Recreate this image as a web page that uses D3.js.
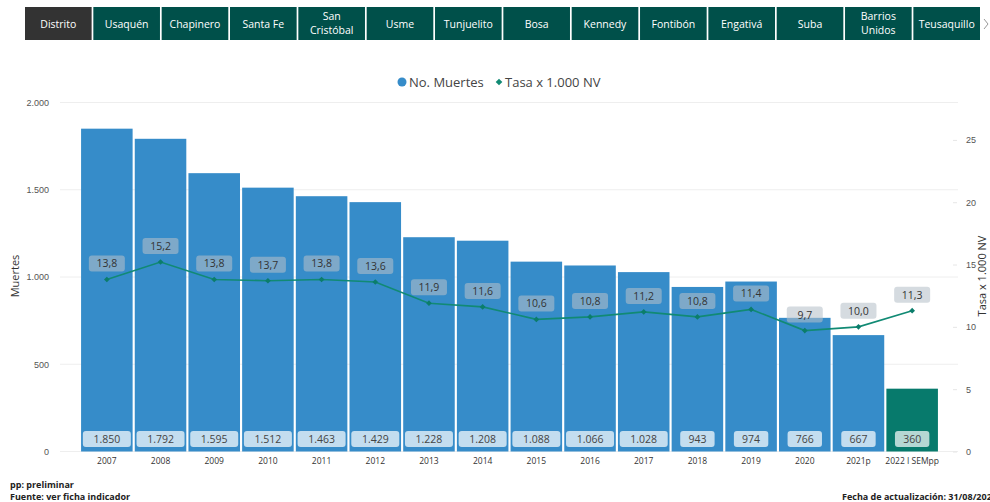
<!DOCTYPE html>
<html>
<head>
<meta charset="utf-8">
<script src="https://cdn.jsdelivr.net/npm/d3@7"></script>
<style>
  body { margin: 0; background: #fff; font-family: "Segoe UI", "Open Sans", "Noto Sans", sans-serif; }
  svg { display: block; }
</style>
</head>
<body>
<svg width="990" height="502"></svg>
<script>
const tabs = ["Distrito", "Usaquén", "Chapinero", "Santa Fe", "San|Cristóbal", "Usme", "Tunjuelito",
  "Bosa", "Kennedy", "Fontibón", "Engativá", "Suba", "Barrios|Unidos", "Teusaquillo"];
const years = ["2007", "2008", "2009", "2010", "2011", "2012", "2013", "2014", "2015", "2016",
  "2017", "2018", "2019", "2020", "2021p", "2022 I SEMpp"];
const muertes = [1850, 1792, 1595, 1512, 1463, 1429, 1228, 1208, 1088, 1066, 1028, 943, 974, 766, 667, 360];
const tasa = [13.8, 15.2, 13.8, 13.7, 13.8, 13.6, 11.9, 11.6, 10.6, 10.8, 11.2, 10.8, 11.4, 9.7, 10.0, 11.3];
const leftTicks = [0, 500, 1000, 1500, 2000];
const rightTicks = [0, 5, 10, 15, 20, 25];

const svg = d3.select("svg");
const fmt = d3.formatLocale({ decimal: ",", thousands: ".", grouping: [3], currency: ["", ""] });
const fmtInt = fmt.format(",d");
const fmtDec = fmt.format(".1f");

//////////// TAB BAR ////////////
const tabX = d3.scaleBand().domain(d3.range(tabs.length)).range([25, 980]).paddingInner(0.025);
const tab = svg.append("g").selectAll("g").data(tabs).enter().append("g")
  .attr("transform", (d, i) => `translate(${tabX(i)},7)`);
tab.append("rect")
  .attr("width", tabX.bandwidth()).attr("height", 33)
  .attr("fill", (d, i) => i === 0 ? "#333333" : "#00504a");
tab.append("text")
  .attr("x", tabX.bandwidth() / 2)
  .attr("text-anchor", "middle")
  .attr("fill", "#fff")
  .attr("font-size", 10.5)
  .each(function(d) {
    const parts = d.split("|");
    const t = d3.select(this);
    parts.forEach((p, j) => {
      t.append("tspan").attr("x", tabX.bandwidth() / 2)
        .attr("y", parts.length === 1 ? 20.5 : 12.5 + j * 14).text(p);
    });
  });
svg.append("path").attr("d", "M984,19 L988,24 L984,29")
  .attr("fill", "none").attr("stroke", "#999").attr("stroke-width", 1);

//////////// SCALES ////////////
const x = d3.scaleBand().domain(years).range([80, 939]).paddingInner(0.04).paddingOuter(0.02);
const y = d3.scaleLinear().domain([0, 2000]).range([451.5, 102.5]);
const y2 = d3.scaleLinear().domain([0, 28]).range([451.5, 102.5]);

// gridlines
svg.append("g").selectAll("line").data(leftTicks).enter().append("line")
  .attr("x1", 60).attr("x2", 958)
  .attr("y1", d => y(d)).attr("y2", d => y(d))
  .attr("stroke", "#eeeeee");

// left axis
const yAxis = svg.append("g").attr("transform", "translate(52,0)")
  .call(d3.axisLeft(y).tickValues(leftTicks).tickFormat(fmtInt).tickSize(0));
yAxis.select(".domain").remove();
yAxis.selectAll("text").attr("fill", "#555").attr("font-size", 9).attr("font-family", "inherit");

// right axis
const y2Axis = svg.append("g").attr("transform", "translate(953,0)")
  .call(d3.axisRight(y2).tickValues(rightTicks).tickSize(4).tickPadding(9));
y2Axis.select(".domain").remove();
y2Axis.selectAll("line").attr("stroke", "#e6e6e6");
y2Axis.selectAll("text").attr("fill", "#555").attr("font-size", 9).attr("font-family", "inherit");

svg.append("text").attr("transform", "translate(19,276) rotate(-90)")
  .attr("text-anchor", "middle").attr("font-size", 11).attr("fill", "#333").text("Muertes");
svg.append("text").attr("transform", "translate(986,276) rotate(-90)")
  .attr("text-anchor", "middle").attr("font-size", 11).attr("fill", "#333").text("Tasa x 1.000 NV");

//////////// BARS ////////////
const last = years.length - 1;
svg.append("g").selectAll("rect").data(muertes).enter().append("rect")
  .attr("x", (d, i) => x(years[i]))
  .attr("y", d => y(d))
  .attr("width", x.bandwidth())
  .attr("height", d => y(0) - y(d))
  .attr("fill", (d, i) => i === last ? "#077a6c" : "#368cc9");

// x labels
svg.append("g").selectAll("text").data(years).enter().append("text")
  .attr("x", d => x(d) + x.bandwidth() / 2).attr("y", 464)
  .attr("text-anchor", "middle").attr("font-size", 8.5).attr("fill", "#333").text(d => d);

// bar value labels
const barLab = svg.append("g").selectAll("g").data(muertes).enter().append("g")
  .attr("transform", (d, i) => `translate(${x(years[i]) + x.bandwidth() / 2},439)`);
barLab.append("rect")
  .attr("x", d => -(fmtInt(d).length * 3.4 + 7)).attr("y", -8)
  .attr("width", d => 2 * (fmtInt(d).length * 3.4 + 7)).attr("height", 16).attr("rx", 3)
  .attr("fill", "#fff").attr("fill-opacity", 0.7);
barLab.append("text").attr("y", 4).attr("text-anchor", "middle")
  .attr("font-size", 10.5).attr("fill", "#444").text(d => fmtInt(d));

//////////// LINE ////////////
const cx = (d, i) => x(years[i]) + x.bandwidth() / 2;
const line = d3.line().x(cx).y(d => y2(d));
svg.append("path").datum(tasa).attr("d", line)
  .attr("fill", "none").attr("stroke", "#118a74").attr("stroke-width", 1.6);
svg.append("g").selectAll("path").data(tasa).enter().append("path")
  .attr("d", d3.symbol(d3.symbolSquare, 16))
  .attr("transform", (d, i) => `translate(${cx(d, i)},${y2(d)}) rotate(45)`)
  .attr("fill", "#0b7d6b");

const lineLab = svg.append("g").selectAll("g").data(tasa).enter().append("g")
  .attr("transform", (d, i) => `translate(${cx(d, i)},${y2(d) - 16})`);
lineLab.append("rect").attr("x", -18).attr("y", -8).attr("width", 36).attr("height", 16).attr("rx", 3)
  .attr("fill", "rgb(181,192,200)").attr("fill-opacity", 0.57);
lineLab.append("text").attr("y", 4).attr("text-anchor", "middle")
  .attr("font-size", 10.5).attr("fill", "#333").text(d => fmtDec(d));

//////////// LEGEND ////////////
const legend = svg.append("g").attr("transform", "translate(397,82)");
legend.append("circle").attr("cx", 5).attr("cy", 0).attr("r", 4.5).attr("fill", "#368cc9");
legend.append("text").attr("x", 12).attr("y", 4.5).attr("font-size", 13).attr("fill", "#444").text("No. Muertes");
legend.append("path").attr("d", d3.symbol(d3.symbolSquare, 22)).attr("transform", "translate(102,0) rotate(45)")
  .attr("fill", "#118a74");
legend.append("text").attr("x", 108).attr("y", 4.5).attr("font-size", 13).attr("fill", "#444").text("Tasa x 1.000 NV");

//////////// FOOTER ////////////
svg.append("text").attr("x", 10).attr("y", 487.5).attr("font-size", 9).attr("font-weight", "bold")
  .attr("fill", "#222").text("pp: preliminar");
svg.append("text").attr("x", 10).attr("y", 500).attr("font-size", 9).attr("font-weight", "bold")
  .attr("fill", "#222").text("Fuente: ver ficha indicador");
svg.append("text").attr("x", 842).attr("y", 500).attr("font-size", 9).attr("font-weight", "bold")
  .attr("fill", "#222").text("Fecha de actualización: 31/08/2022");
</script>
</body>
</html>
